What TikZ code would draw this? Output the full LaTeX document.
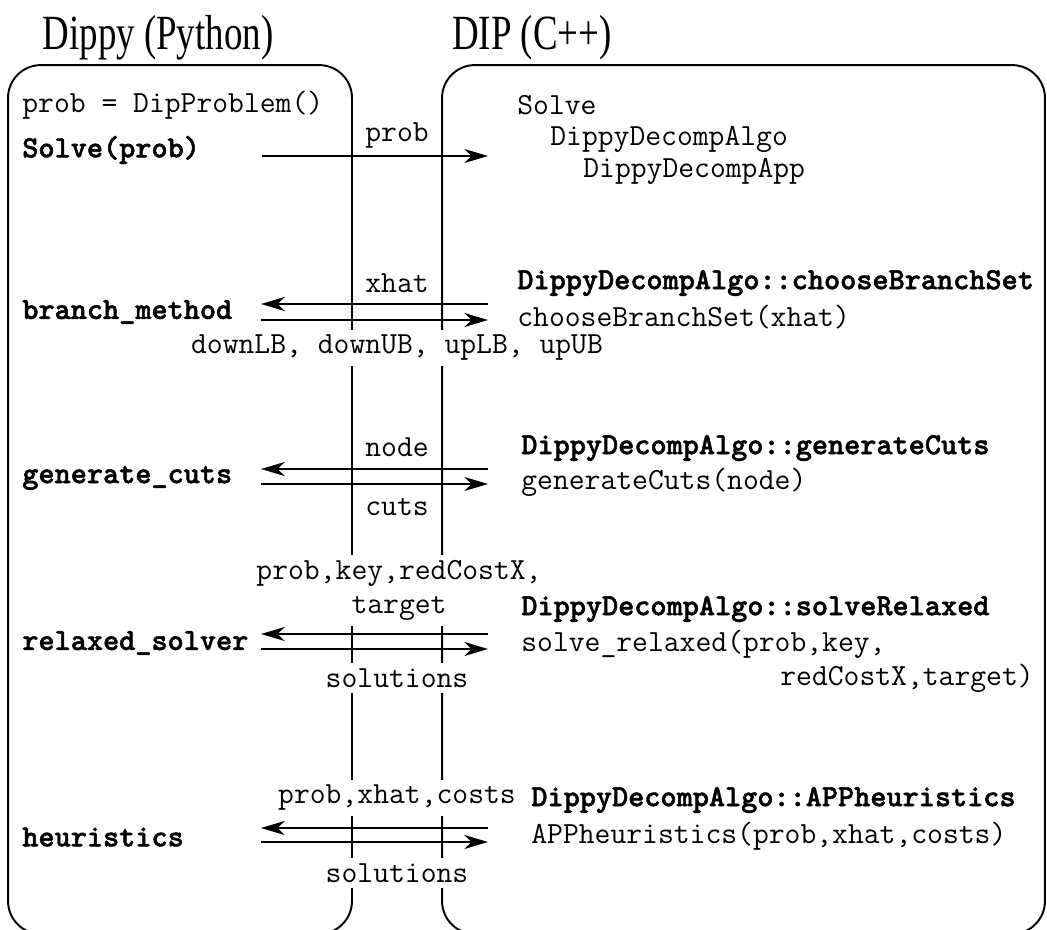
\documentclass[tikz,border=0pt]{standalone}
\usepackage{fontspec}
\setmainfont{Liberation Serif}
\newfontfamily\codebold{lmmonolt10-bold.otf}[FakeBold=1.6]
\usetikzlibrary{arrows.meta}

\newcommand{\codefont}{\ttfamily\fontsize{17.5}{19.8}\selectfont}
\newcommand{\headtext}[1]{\scalebox{0.75}[1]{#1}}

\tikzset{
  heading/.style={font=\fontsize{28}{32}\selectfont},
  side/.style={draw, line width=1.1pt, rounded corners=18.7pt},
  code/.style={font=\codefont, inner sep=0pt, anchor=west},
  call/.style={code, font=\codebold\fontsize{17.5}{19.8}\selectfont},
  msg/.style={font=\codefont, fill=white, inner xsep=1pt, inner ysep=3pt, align=center},
  link/.style={->, line width=1.1pt},
  >={Stealth[length=13.5pt, width=8pt, inset=4pt]}
}

\begin{document}
\begin{tikzpicture}[x=0.02cm, y=-0.02cm]
    \useasboundingbox (0,0) rectangle (1047,929);
    \clip (0,0) rectangle (1047,929);

    % the two sides
    \node[heading] (dippy) at (158, 38) {\headtext{Dippy (Python)}};
    \node[heading] (dip) at (532, 38) {\headtext{DIP (C++)}};
    \node[side, minimum width=6.88cm, minimum height=17.38cm] (python) at (180, 499.5) {};
    \node[side, minimum width=12.06cm, minimum height=17.38cm] (cpp) at (743.5, 499.5) {};

    % python side
    \node[code] (prob) at (22, 105) {prob = DipProblem()};
    \node[call] (solve) at (22, 150) {Solve(prob)};
    \node[call] (branch) at (22, 312) {branch\_method};
    \node[call] (gencuts) at (22, 478) {generate\_cuts};
    \node[call] (relaxed) at (22, 643) {relaxed\_solver};
    \node[call] (heur) at (22, 837) {heuristics};

    % calls across the boundary
    \coordinate (sv1) at (262, 156);
    \coordinate (sv2) at (488, 156);
    \coordinate (bm1) at (261, 304);
    \coordinate (bm2) at (488, 304);
    \coordinate (bm3) at (261, 320);
    \coordinate (bm4) at (488, 320);
    \coordinate (gc1) at (261, 469);
    \coordinate (gc2) at (488, 469);
    \coordinate (gc3) at (261, 484);
    \coordinate (gc4) at (488, 484);
    \coordinate (rs1) at (261, 634);
    \coordinate (rs2) at (488, 634);
    \coordinate (rs3) at (261, 649);
    \coordinate (rs4) at (488, 649);
    \coordinate (hh1) at (261, 828);
    \coordinate (hh2) at (488, 828);
    \coordinate (hh3) at (261, 842);
    \coordinate (hh4) at (488, 842);
    \draw[link] (sv1) -- (sv2);
    \draw[link] (bm2) -- (bm1);
    \draw[link] (bm3) -- (bm4);
    \draw[link] (gc2) -- (gc1);
    \draw[link] (gc3) -- (gc4);
    \draw[link] (rs2) -- (rs1);
    \draw[link] (rs3) -- (rs4);
    \draw[link] (hh2) -- (hh1);
    \draw[link] (hh3) -- (hh4);

    % what is passed
    \node[msg] (mprob) at (397, 136) {prob};
    \node[msg] (mxhat) at (397, 283) {xhat};
    \node[msg] (mbounds) at (397, 348) {downLB, downUB, upLB, upUB};
    \node[msg] (mnode) at (397, 447) {node};
    \node[msg] (mcuts) at (397, 507) {cuts};
    \node[msg] (margs) at (399, 590.5) {prob,key,redCostX,\\target};
    \node[msg] (msols) at (397, 678) {solutions};
    \node[msg] (mheur) at (397, 798) {prob,xhat,costs};
    \node[msg] (mhsols) at (397, 873) {solutions};

    % c++ side
    \node[code] (csolve) at (517, 105) {Solve};
    \node[code] (calgo) at (550, 139) {DippyDecompAlgo};
    \node[code] (capp) at (583, 171) {DippyDecompApp};
    \node[call] (cbranch) at (517, 283) {DippyDecompAlgo::chooseBranchSet};
    \node[code] (cbranchf) at (517, 317) {chooseBranchSet(xhat)};
    \node[call] (ccuts) at (521, 448) {DippyDecompAlgo::generateCuts};
    \node[code] (ccutsf) at (521, 482) {generateCuts(node)};
    \node[call] (crelax) at (521, 609) {DippyDecompAlgo::solveRelaxed};
    \node[code] (crelaxf) at (521, 644) {solve\_relaxed(prob,key,};
    \node[code] (crelaxg) at (780, 678) {redCostX,target)};
    \node[call] (cheur) at (531, 800) {DippyDecompAlgo::APPheuristics};
    \node[code] (cheurf) at (531, 836) {APPheuristics(prob,xhat,costs)};
\end{tikzpicture}
\end{document}
